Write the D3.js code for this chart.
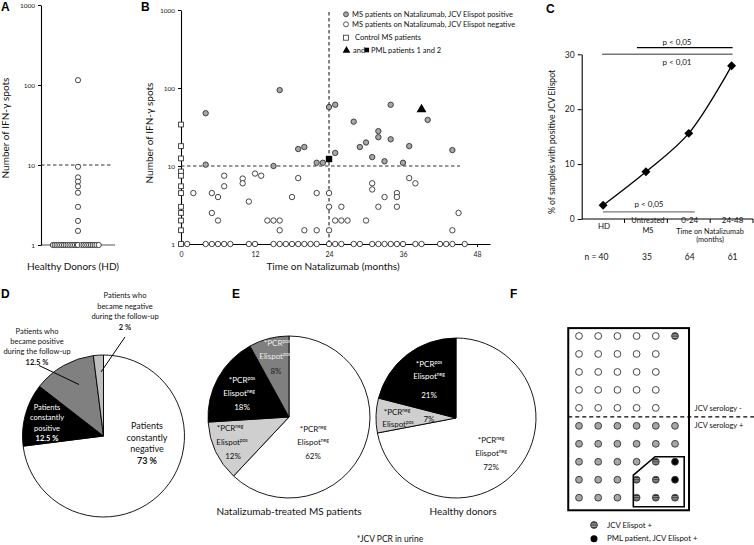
<!DOCTYPE html>
<html><head><meta charset="utf-8">
<script src="https://cdn.jsdelivr.net/npm/d3@7"></script>
<style>
body{margin:0;background:#fff}
svg{display:block}
text{font-family:Lato,"Open Sans",sans-serif;fill:#111}
</style></head>
<body><svg id="chart" width="754" height="545"></svg>
<script>
// ---------------- DATA ----------------
const logTicks = [1, 10, 100, 1000];
// Panel A – healthy donors
const hdAboveValues = [115, 9.5, 7, 6.2, 5.4, 4.5, 3, 2, 1.5];
const hdBaselineJitter = [-0.68,-0.63,-0.58,-0.53,-0.48,-0.43,-0.38,-0.33,-0.28,-0.23,-0.18,-0.13,-0.08,-0.03,0,0.1,0.15,0.2,0.25,0.3,0.35,0.4,0.45,0.5,0.56];
// Panel B – MS patients on natalizumab
const bMonthTicks = [0, 12, 24, 36, 48];
const posMonths = [4,4,16,15,19,20,22,23,24,25,25,28,29,30,31,32,32,33,34,34,36,37,40,44];
const posValues = [47.5,10.4,94,10,16.5,17.5,11,11,57,61,14.7,37,17.5,20,13,28,23.4,11.5,61,22,11,18,39,16];
const negMonths = [2,5,5,6,6,7,7,10,10,11,12,13,14,15,16,16,18,19,20,22,22,24,24,24,25,26,26,27,30,31,31,32,33,35,35,35,37,38,44,45];
const negValues = [4.5,4.5,2.5,4,2,5.5,7.5,6.9,6,3.5,8,7.5,2,2,2,1.5,4,7,1.5,4.5,1.5,4.5,3,1.5,2,3,2,2,2,6,5,3,4,4.5,4,3,7,6,1.5,2.5];
const negBaselineMonths = [1,4,5,6,7,8,11,12,15,16,17,18,19,20,21,22,24,25,26,28,29,31,32,33,34,35,36,38,39,42,43,44,46];
const controlValues = [34,18,12.5,8.5,7.5,5.5,4.5,3,2.5,2,1.5,1];
const pmlTriangle = {month: 39, value: 53};
const pmlSquare = {month: 24, value: 12.3};
const bLegend = ["MS patients on Natalizumab, JCV Elispot positive","MS patients on Natalizumab, JCV Elispot negative","Control MS patients","PML patients 1 and 2"];
// Panel C
const cCats = ["HD", "Untreated MS", "0-24", "24-48"];
const cValues = [2.5, 8.6, 15.6, 27.9];
const cN = [40, 35, 64, 61];
const cTicks = [0, 10, 20, 30];
// Panel D
const dShares = [73, 12.5, 12.5, 2];
const dPct = ["73 %", "12.5 %", "12.5 %", "2 %"];
// Panel E
const eMsShares = [62, 12, 18, 8];
const eHdShares = [72, 7, 21];
// Panel F (rows of the grid: o=negative, g=serology+, s=JCV Elispot+, b=PML)
const fRows = ["ooooos","ooooo","ooooo","ooooo","ooooo","gggggg","gggggg","ggggsb","gggssb","gggsss"];

// ---------------- DRAW ----------------
const svg = d3.select("#chart");
const FONT = 'Lato,"Open Sans",sans-serif';
const grayFill = "#a6a6a6";

const defs = svg.append("defs");
const pat = defs.append("pattern").attr("id","stripes")
  .attr("patternUnits","objectBoundingBox").attr("patternContentUnits","objectBoundingBox")
  .attr("width",1).attr("height",0.3333);
pat.append("rect").attr("width",1).attr("height",0.3333).attr("fill","#9a9a9a");
pat.append("rect").attr("y",0.12).attr("width",1).attr("height",0.13).attr("fill","#222");

function panelLetter(x, y, t){
  svg.append("text").attr("x",x).attr("y",y).text(t)
    .attr("font-size",12).attr("font-weight","bold").style("font-family","Arial, 'Liberation Sans', sans-serif").style("fill","#000");
}
function styleAxis(g, fs){
  g.selectAll("path.domain").attr("stroke","#000").attr("stroke-width",1.1);
  g.selectAll(".tick line").attr("stroke","#000");
  g.selectAll(".tick text").attr("font-size",fs).style("font-family",FONT).style("fill","#222");
}
function lines(g, x, y, arr, fs, dyStep, opts={}){
  const t = g.append("text").attr("x",x).attr("y",y).attr("text-anchor",opts.anchor||"middle")
    .attr("font-size",fs);
  if(opts.fill) t.style("fill",opts.fill);
  arr.forEach((s,i)=>{
    const ts = t.append("tspan").attr("x",x).attr("dy", i===0?0:dyStep).text(s);
    if(opts.boldLast && i===arr.length-1) ts.attr("font-weight","bold");
  });
  return t;
}

// ===== Panel A =====
panelLetter(1, 11, "A");
const yA = d3.scaleLog().domain([1,1000]).range([245,5]);
const xA = d3.scaleLinear().domain([-1,1]).range([41,115]);
const gA = svg.append("g");
gA.append("line").attr("x1",xA(-1)).attr("x2",xA(1)).attr("y1",yA(1)).attr("y2",yA(1)).attr("stroke","#555").attr("stroke-width",1.2);
const axA = gA.append("g").attr("transform","translate(41,0)")
  .call(d3.axisLeft(yA).tickValues(logTicks).tickFormat(d3.format("d")).tickSize(3).tickSizeOuter(0));
styleAxis(axA, 6.5);
gA.append("line").attr("x1",41).attr("x2",113).attr("y1",yA(10)).attr("y2",yA(10))
  .attr("stroke","#333").attr("stroke-width",1.1).attr("stroke-dasharray","3.5,2.5");
gA.selectAll("circle.b").data(hdBaselineJitter).join("circle")
  .attr("cx",d=>xA(d)).attr("cy",yA(1)).attr("r",2.6).attr("fill","#fff").attr("stroke","#333").attr("stroke-width",0.9);
gA.selectAll("circle.a").data(hdAboveValues).join("circle")
  .attr("cx",xA(0)).attr("cy",d=>yA(d)).attr("r",2.6).attr("fill","#fff").attr("stroke","#333").attr("stroke-width",0.9);
gA.append("text").attr("transform","translate(9,128) rotate(-90)").attr("text-anchor","middle")
  .attr("font-size",10).text("Number of IFN-γ spots");
gA.append("text").attr("x",73).attr("y",270).attr("text-anchor","middle").attr("font-size",10).text("Healthy Donors (HD)");

// ===== Panel B =====
panelLetter(141, 11, "B");
const xB = d3.scaleLinear().domain([0,50.1]).range([181,490]);
const yB = d3.scaleLog().domain([1,1000]).range([244,10]);
const gB = svg.append("g");
const axBx = gB.append("g").attr("transform",`translate(0,${yB(1)})`)
  .call(d3.axisBottom(xB).tickValues(bMonthTicks).tickSize(3).tickSizeOuter(0));
styleAxis(axBx, 7);
axBx.selectAll(".tick text").attr("dy","0.95em");
const axBy = gB.append("g").attr("transform",`translate(${xB(0)},0)`)
  .call(d3.axisLeft(yB).tickValues(logTicks).tickFormat(d3.format("d")).tickSize(3).tickSizeOuter(0));
styleAxis(axBy, 6.5);
gB.append("line").attr("x1",xB(24)).attr("x2",xB(24)).attr("y1",12).attr("y2",yB(1))
  .attr("stroke","#333").attr("stroke-width",1.2).attr("stroke-dasharray","3.5,2.5");
gB.append("line").attr("x1",xB(0)).attr("x2",460).attr("y1",yB(10)).attr("y2",yB(10))
  .attr("stroke","#333").attr("stroke-width",1.1).attr("stroke-dasharray","3.5,2.5");
const circ = (sel, fill)=> sel.attr("r",2.7).attr("fill",fill).attr("stroke","#333").attr("stroke-width",0.9);
circ(gB.selectAll("circle.nb").data(negBaselineMonths).join("circle")
  .attr("cx",d=>xB(d)).attr("cy",yB(1)), "#fff");
circ(gB.selectAll("circle.n").data(negMonths).join("circle")
  .attr("cx",d=>xB(d)).attr("cy",(d,i)=>yB(negValues[i])), "#fff");
circ(gB.selectAll("circle.p").data(posMonths).join("circle")
  .attr("cx",d=>xB(d)).attr("cy",(d,i)=>yB(posValues[i])), grayFill);
gB.selectAll("rect.c").data(controlValues).join("rect")
  .attr("x",xB(0)-2.4).attr("y",d=>yB(d)-2.4).attr("width",4.8).attr("height",4.8)
  .attr("fill","#fff").attr("stroke","#333").attr("stroke-width",0.9);
gB.append("path").attr("d",d3.symbol(d3.symbolTriangle,42)())
  .attr("transform",`translate(${xB(pmlTriangle.month)},${yB(pmlTriangle.value)})`).attr("fill","#000");
gB.append("rect").attr("x",xB(pmlSquare.month)-3.2).attr("y",yB(pmlSquare.value)-3.2).attr("width",6.4).attr("height",6.4).attr("fill","#000");
gB.append("text").attr("transform","translate(153,133) rotate(-90)").attr("text-anchor","middle")
  .attr("font-size",10).text("Number of IFN-γ spots");
gB.append("text").attr("x",333).attr("y",270).attr("text-anchor","middle").attr("font-size",10).text("Time on Natalizumab (months)");
// legend
const lg = gB.append("g");
const legY = [14.3, 24.3, 37.7, 50];
lg.append("circle").attr("cx",346).attr("cy",legY[0]).attr("r",2.5).attr("fill",grayFill).attr("stroke","#333").attr("stroke-width",0.8);
lg.append("circle").attr("cx",346).attr("cy",legY[1]).attr("r",2.5).attr("fill","#fff").attr("stroke","#333").attr("stroke-width",0.8);
lg.append("rect").attr("x",343.5).attr("y",legY[2]-2.5).attr("width",5).attr("height",5).attr("fill","#fff").attr("stroke","#333").attr("stroke-width",0.8);
lg.append("path").attr("d",d3.symbol(d3.symbolTriangle,26)()).attr("transform",`translate(346.5,${legY[3]+0.5})`).attr("fill","#000");
lg.append("rect").attr("x",364.5).attr("y",legY[3]-2.3).attr("width",4.6).attr("height",4.6).attr("fill","#000");
[0,1,2].forEach(i=>{
  lg.append("text").attr("x", i===2?355:352).attr("y",legY[i]).attr("dy","0.35em").attr("font-size",7.5).text(bLegend[i]);
});
lg.append("text").attr("x",353).attr("y",legY[3]).attr("dy","0.35em").attr("font-size",7.5).text("and");
lg.append("text").attr("x",371).attr("y",legY[3]).attr("dy","0.35em").attr("font-size",7.5).text(bLegend[3]);

// ===== Panel C =====
panelLetter(546, 13, "C");
const xC = d3.scaleBand().domain(cCats).range([581.7,753]);
const yC = d3.scaleLinear().domain([0,30]).range([219,54.3]);
const gC = svg.append("g");
const cx = c => xC(c)+xC.bandwidth()/2;
const axCy = gC.append("g").attr("transform","translate(581.7,0)")
  .call(d3.axisLeft(yC).tickValues(cTicks).tickSize(4).tickSizeOuter(0));
styleAxis(axCy, 8.5);
gC.append("line").attr("x1",581.7).attr("x2",753).attr("y1",yC(0)).attr("y2",yC(0)).attr("stroke","#000").attr("stroke-width",1.1);
gC.selectAll("line.t").data(cCats).join("line")
  .attr("x1",d=>xC(d)+xC.bandwidth()).attr("x2",d=>xC(d)+xC.bandwidth())
  .attr("y1",yC(0)).attr("y2",yC(0)+4).attr("stroke","#000");
const curve = d3.line().x((d,i)=>cx(cCats[i])).y(d=>yC(d)).curve(d3.curveCatmullRom.alpha(0.5));
gC.append("path").attr("d",curve(cValues)).attr("fill","none").attr("stroke","#000").attr("stroke-width",1.3);
gC.selectAll("path.m").data(cValues).join("path")
  .attr("d",d3.symbol(d3.symbolSquare,40)())
  .attr("transform",(d,i)=>`translate(${cx(cCats[i])},${yC(d)}) rotate(45)`).attr("fill","#000");
// significance bars
gC.append("line").attr("x1",cx("Untreated MS")-9).attr("x2",cx("24-48")+1).attr("y1",yC(31.2)).attr("y2",yC(31.2)).attr("stroke","#000").attr("stroke-width",1.2);
gC.append("text").attr("x",677).attr("y",yC(31.2)-3).attr("text-anchor","middle").attr("font-size",8).text("p < 0,05");
gC.append("line").attr("x1",cx("HD")-1).attr("x2",cx("24-48")+1).attr("y1",yC(30)).attr("y2",yC(30)).attr("stroke","#777").attr("stroke-width",1.4);
gC.append("text").attr("x",677).attr("y",yC(30)+11).attr("text-anchor","middle").attr("font-size",8).text("p < 0,01");
gC.append("line").attr("x1",cx("HD")).attr("x2",cx("0-24")+6).attr("y1",yC(1.3)).attr("y2",yC(1.3)).attr("stroke","#777").attr("stroke-width",1.4);
gC.append("text").attr("x",649).attr("y",yC(1.3)-5).attr("text-anchor","middle").attr("font-size",8).text("p < 0,05");
// category labels
gC.append("text").attr("x",cx("HD")+1).attr("y",229).attr("text-anchor","middle").attr("font-size",8).text("HD");
lines(gC, cx("Untreated MS")+2, 223, ["Untreated","MS"], 7.5, 10);
gC.append("text").attr("x",cx("0-24")+1).attr("y",223).attr("text-anchor","middle").attr("font-size",8).text("0-24");
gC.append("text").attr("x",cx("24-48")+1).attr("y",223).attr("text-anchor","middle").attr("font-size",8).text("24-48");
lines(gC, 710, 233.5, ["Time on Natalizumab","(months)"], 7.3, 8.5);
gC.append("text").attr("x",596.5).attr("y",260).attr("text-anchor","middle").attr("font-size",8.5).text("n = " + cN[0]);
cCats.slice(1).forEach((c,i)=>{
  gC.append("text").attr("x",cx(c)+1).attr("y",260).attr("text-anchor","middle").attr("font-size",8.5).text(cN[i+1]);
});
gC.append("text").attr("transform","translate(555,142) rotate(-90)").attr("text-anchor","middle")
  .attr("font-size",8.6).text("% of  samples with positive JCV Elispot");

// ===== Panel D =====
panelLetter(1, 298, "D");
const gD = svg.append("g").attr("transform","translate(103.5,436)");
const pie = d3.pie().sort(null).value(d=>d);
const arcD = d3.arc().innerRadius(0).outerRadius(81);
const dColors = ["#fff","#000","#808080","#bfbfbf"];
gD.selectAll("path").data(pie(dShares)).join("path").attr("d",arcD)
  .attr("fill",(d,i)=>dColors[i]).attr("stroke","#000").attr("stroke-width",0.9);
const gDt = svg.append("g");
lines(gDt, 147, 429, ["Patients","constantly","negative", dPct[0]], 9, 11.7, {boldLast:true});
lines(gDt, 47, 410, ["Patients","constantly","positive", dPct[1]], 7.5, 10.4, {boldLast:true, fill:"#fff"});
lines(gDt, 37, 334, ["Patients who","became  positive","during the follow-up", dPct[2]], 7.5, 10.2, {boldLast:true});
lines(gDt, 125, 298, ["Patients who","became negative","during the follow-up", dPct[3]], 7.5, 10.6, {boldLast:true});
gDt.append("line").attr("x1",39).attr("y1",365.5).attr("x2",79).attr("y2",384.5).attr("stroke","#000").attr("stroke-width",1);
gDt.append("line").attr("x1",125).attr("y1",337).attr("x2",101).attr("y2",372).attr("stroke","#000").attr("stroke-width",1);

// ===== Panel E =====
panelLetter(232, 298, "E");
function supText(g, x, y, base, sup, fs, fill){
  const t = g.append("text").attr("x",x).attr("y",y).attr("text-anchor","middle").attr("font-size",fs);
  if(fill) t.style("fill",fill);
  t.append("tspan").text(base);
  t.append("tspan").attr("dy",-2.8).attr("font-size",fs*0.62).text(sup);
  return t;
}
function plain(g,x,y,s,fs,fill){
  const t=g.append("text").attr("x",x).attr("y",y).attr("text-anchor","middle").attr("font-size",fs).text(s);
  if(fill) t.style("fill",fill);
}
const gE1 = svg.append("g").attr("transform","translate(289,417)");
const arcE = d3.arc().innerRadius(0).outerRadius(81);
const e1Colors = ["#fff","#cfcfcf","#000","#7f7f7f"];
gE1.selectAll("path").data(pie(eMsShares)).join("path").attr("d",arcE)
  .attr("fill",(d,i)=>e1Colors[i]).attr("stroke","#000").attr("stroke-width",0.9);
const gE2 = svg.append("g").attr("transform","translate(456,418)");
const arcE2 = d3.arc().innerRadius(0).outerRadius(80);
const e2Colors = ["#fff","#cfcfcf","#000"];
gE2.selectAll("path").data(pie(eHdShares)).join("path").attr("d",arcE2)
  .attr("fill",(d,i)=>e2Colors[i]).attr("stroke","#000").attr("stroke-width",0.9);
const gEt = svg.append("g");
const efs = 8;
// MS pie labels
supText(gEt, 313, 432, "*PCR","neg", efs);
supText(gEt, 313, 444.5, "Elispot","neg", efs);
plain(gEt, 313, 459, eMsShares[0]+"%", efs);
supText(gEt, 230, 431, "*PCR","neg", efs);
supText(gEt, 232, 444.5, "Elispot","pos", efs);
plain(gEt, 233, 459, eMsShares[1]+"%", efs);
supText(gEt, 242, 383, "*PCR","pos", efs, "#fff");
supText(gEt, 239, 395.5, "Elispot","neg", efs, "#fff");
plain(gEt, 242, 410, eMsShares[2]+"%", efs, "#fff");
supText(gEt, 277, 346, "*PCR","pos", efs, "#eee");
supText(gEt, 275, 358.5, "Elispot","pos", efs, "#eee");
plain(gEt, 276, 374, eMsShares[3]+"%", efs, "#222");
// HD pie labels
supText(gEt, 429, 367, "*PCR","pos", efs, "#fff");
supText(gEt, 429, 379, "Elispot","neg", efs, "#fff");
plain(gEt, 429, 398, eHdShares[2]+"%", efs, "#fff");
supText(gEt, 397, 415, "*PCR","neg", efs);
supText(gEt, 398, 427, "Elispot","pos", efs);
plain(gEt, 429, 422, eHdShares[1]+"%", efs);
supText(gEt, 491, 443, "*PCR","neg", efs);
supText(gEt, 491, 455.5, "Elispot","neg", efs);
plain(gEt, 491, 470, eHdShares[0]+"%", efs);
plain(gEt, 289, 515, "Natalizumab-treated MS patients", 10);
plain(gEt, 463, 515, "Healthy donors", 10);
plain(gEt, 390, 542, "*JCV PCR in urine", 8.5);

// ===== Panel F =====
panelLetter(510, 298, "F");
const xF = d3.scaleLinear().domain([0,5]).range([579,675]);
const yF = d3.scaleLinear().domain([0,9]).range([336,497.7]);
const gF = svg.append("g");
gF.append("rect").attr("x",xF(-0.56)).attr("y",yF(-0.44)).attr("width",xF(5.73)-xF(-0.56)).attr("height",yF(9.7)-yF(-0.44))
  .attr("fill","none").attr("stroke","#000").attr("stroke-width",2);
gF.append("line").attr("x1",xF(-0.56)).attr("x2",754).attr("y1",yF(4.5)).attr("y2",yF(4.5))
  .attr("stroke","#000").attr("stroke-width",1.1).attr("stroke-dasharray","4,3");
const fCells = [];
fRows.forEach((row,r)=>row.split("").forEach((k,c)=>fCells.push({r,c,k})));
const fFill = {o:"#fff", g:grayFill, s:"url(#stripes)", b:"#000"};
gF.selectAll("circle").data(fCells).join("circle")
  .attr("cx",d=>xF(d.c)).attr("cy",d=>yF(d.r)).attr("r",3.4)
  .attr("fill",d=>fFill[d.k]).attr("stroke","#333").attr("stroke-width",0.9);
const fPoly = [[2.83,7.74],[3.96,6.72],[5.48,6.72],[5.48,9.5],[2.83,9.5]];
gF.append("path").attr("d", d3.line().x(d=>xF(d[0])).y(d=>yF(d[1]))(fPoly)+"Z")
  .attr("fill","none").attr("stroke","#000").attr("stroke-width",1.6);
gF.append("text").attr("x",694.5).attr("y",yF(4.5)-6).attr("font-size",7.5).text("JCV serology -");
gF.append("text").attr("x",694.5).attr("y",yF(4.5)+11.5).attr("font-size",7.5).text("JCV serology +");
gF.append("circle").attr("cx",594).attr("cy",525).attr("r",3.4).attr("fill","url(#stripes)").attr("stroke","#333").attr("stroke-width",0.9);
gF.append("circle").attr("cx",594).attr("cy",538.7).attr("r",3.5).attr("fill","#000");
gF.append("text").attr("x",607).attr("y",525).attr("dy","0.35em").attr("font-size",7.8).text("JCV Elispot +");
gF.append("text").attr("x",607).attr("y",538.7).attr("dy","0.35em").attr("font-size",7.8).text("PML patient, JCV Elispot +");
</script></body></html>
